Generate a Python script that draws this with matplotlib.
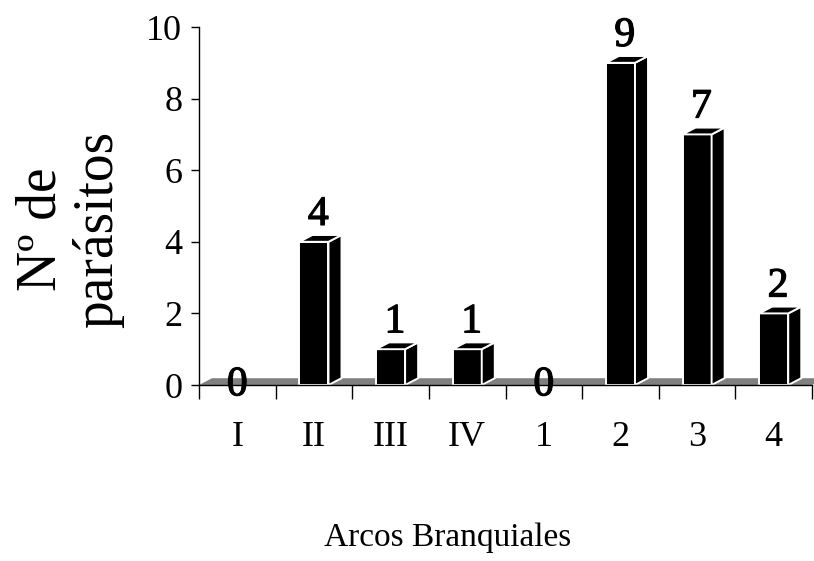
import matplotlib
matplotlib.use("Agg")
import matplotlib.pyplot as plt
import matplotlib.patheffects as pe
from matplotlib.patches import Polygon

# Parasite counts per gill arch
categories = ["I", "II", "III", "IV", "1", "2", "3", "4"]
values = [0, 4, 1, 1, 0, 9, 7, 2]
yticks = [0, 2, 4, 6, 8, 10]

plt.rcParams["font.family"] = ["Liberation Serif", "DejaVu Serif"]

fig = plt.figure(figsize=(8.14, 5.61), dpi=100)
ax = fig.add_axes([199 / 814, 176 / 561, 613 / 814, 358 / 561])

n = len(categories)
ax.set_xlim(-0.5, n - 0.5)
ax.set_ylim(0, 10)

# pseudo-3D depth offsets (data units)
dx, dy = 0.17, 0.19
w = 0.38

# floor strip
floor = Polygon([(-0.5, 0), (-0.5 + dx, dy), (n - 0.5 + dx, dy), (n - 0.5, 0)],
                closed=True, facecolor="#808080", edgecolor="none",
                zorder=1, clip_on=False)
ax.add_patch(floor)

label_fx = [pe.withStroke(linewidth=0.9, foreground="black")]

for i, v in enumerate(values):
    if v > 0:
        x0, x1 = i - w / 2, i + w / 2
        faces = [
            [(x0, 0), (x0, v), (x1, v), (x1, 0)],
            [(x1, 0), (x1 + dx, dy), (x1 + dx, v + dy), (x1, v)],
            [(x0, v), (x0 + dx, v + dy), (x1 + dx, v + dy), (x1, v)],
        ]
        for f in faces:
            ax.add_patch(Polygon(f, closed=True, facecolor="black",
                                 edgecolor="white", linewidth=1.4,
                                 zorder=3, clip_on=False))
        ax.text(i + dx / 3, v + dy + 0.03, str(v), ha="center", va="bottom",
                fontsize=30, zorder=4, clip_on=False, path_effects=label_fx)
    else:
        ax.text(i, 0, str(v), ha="center", va="center",
                fontsize=30, zorder=2, clip_on=False, path_effects=label_fx)

for s in ["top", "right"]:
    ax.spines[s].set_visible(False)
ax.spines["left"].set_linewidth(1.0)
ax.spines["bottom"].set_linewidth(1.0)
ax.spines["bottom"].set_zorder(5)

ax.set_yticks(yticks)
ax.set_yticklabels([str(t) for t in yticks], fontsize=26)
ax.tick_params(axis="y", direction="out", length=6, width=1, pad=6)

ax.set_xticks(range(n))
ax.set_xticklabels(categories, fontsize=26)
ax.tick_params(axis="x", which="major", length=0, pad=26)
ax.set_xticks([i - 0.5 for i in range(n + 1)], minor=True)
ax.tick_params(axis="x", which="minor", direction="out", length=10, width=1)

fig.text(70 / 814, 1 - 229 / 561, "Nº de\nparásitos", rotation=90,
         ha="center", va="center", multialignment="center",
         fontsize=40, linespacing=1.1)
fig.text(448 / 814, 1 - 538 / 561, "Arcos Branquiales", ha="center",
         va="center", fontsize=24)

fig.savefig("out.png", dpi=100)
